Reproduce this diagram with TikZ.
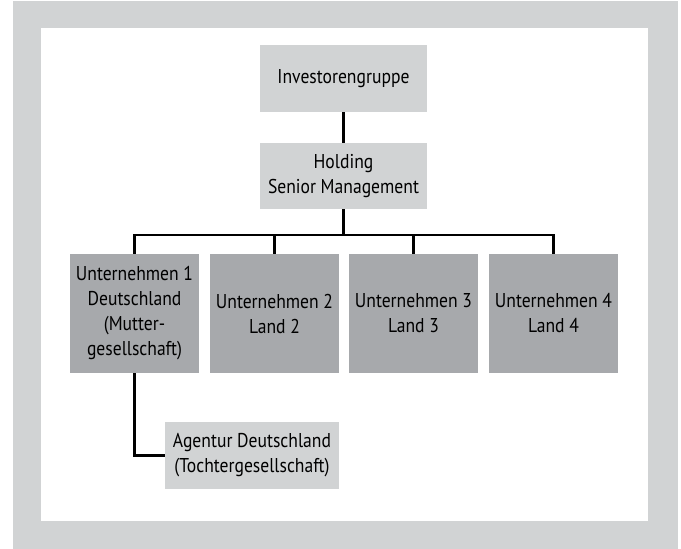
\documentclass[tikz,border=0pt]{standalone}
\usepackage{fontspec}
\setmainfont{PT Sans}[FakeStretch=0.88]
\usepackage{tikz}
\usetikzlibrary{positioning}
\definecolor{ChartFrame}{HTML}{D1D3D4}
\definecolor{ChartLight}{HTML}{D1D3D4}
\definecolor{ChartDark}{HTML}{A7A9AC}
\tikzset{
  link/.style={draw=black,line width=2.2pt},
  unit/.style={fill=ChartLight,draw=none,align=center,inner sep=0pt,text=black,
    font=\fontsize{20}{25}\selectfont,minimum height=67pt},
  company/.style={unit,fill=ChartDark,minimum width=129pt,minimum height=119pt}
}
\begin{document}
\begin{tikzpicture}[x=1pt,y=-1pt]
  \useasboundingbox (0,0) rectangle (681,549);
  % Frame and white panel.
  \fill[ChartFrame] (13,1) rectangle (678,549);
  \fill[white] (41,28) rectangle (648,521);

  % Top of the group.
  \node[unit,minimum width=167pt] (invest) at (343.5,78.5) {Investorengruppe};
  \node[unit,minimum width=167pt,minimum height=66pt] (holding) at (343.5,176)
    {Holding\\Senior Management};

  % Country companies.
  \node[company] (firm1) at (134.5,313.5) {Unternehmen 1\\Deutschland\\(Mutter-\\gesellschaft)};
  \node[company] (firm2) at (274.5,313.5) {Unternehmen 2\\Land 2};
  \node[company] (firm3) at (413.5,313.5) {Unternehmen 3\\Land 3};
  \node[company] (firm4) at (553.5,313.5) {Unternehmen 4\\Land 4};

  % Subsidiary.
  \node[unit,minimum width=174pt] (agency) at (252,455.5)
    {Agentur Deutschland\\(Tochtergesellschaft)};

  \coordinate (bus) at (343.5,235);
  \draw[link] (invest) -- (holding);
  \draw[link] (holding) -- (bus);
  \draw[link] (firm1.north) |- (bus) -| (firm4.north);
  \draw[link] (firm2.north) -- (firm2.north |- bus);
  \draw[link] (firm3.north) -- (firm3.north |- bus);
  \draw[link] (firm1.south) |- (agency.west);
\end{tikzpicture}
\end{document}
